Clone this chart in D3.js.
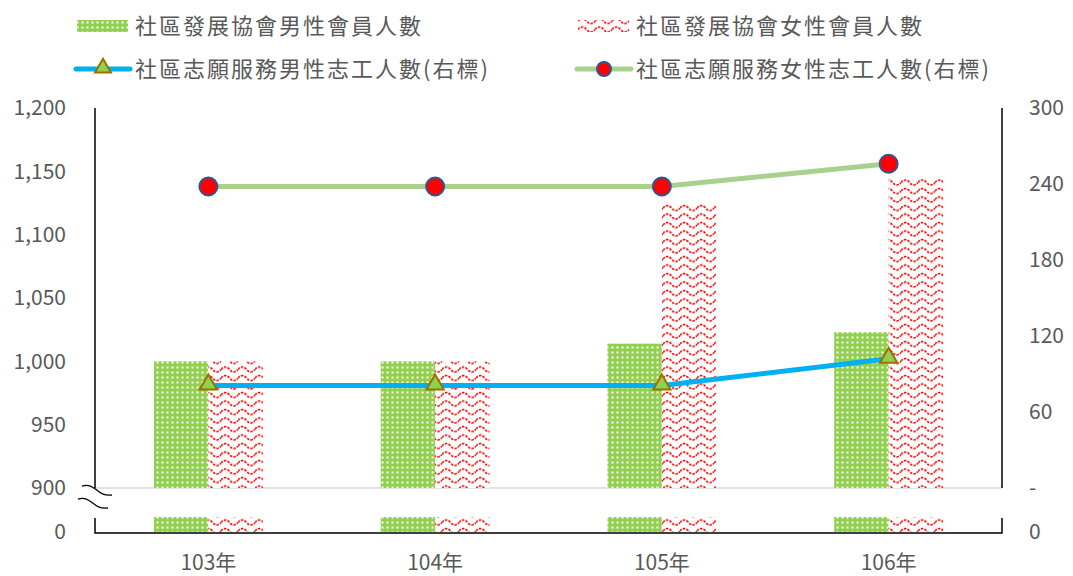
<!DOCTYPE html>
<html>
<head>
<meta charset="utf-8">
<script src="https://cdn.jsdelivr.net/npm/d3@7"></script>
<style>
  body { margin: 0; background: #fff; }
  text { font-family: "Noto Sans CJK TC", "Noto Sans", sans-serif; fill: #595959; }
</style>
</head>
<body>
<div id="chart"></div>
<script>
const categories = ['103年', '104年', '105年', '106年'];
const maleMembers = [1000, 1000, 1014, 1023];
const femaleMembers = [1000, 1000, 1124, 1144];
const maleVolunteers = [81, 81, 81, 102];
const femaleVolunteers = [238, 238, 238, 256];
const leftTicks = [900, 950, 1000, 1050, 1100, 1150, 1200];
const rightTicks = [0, 60, 120, 180, 240, 300];
const legendNames = ['社區發展協會男性會員人數', '社區發展協會女性會員人數', '社區志願服務男性志工人數(右標)', '社區志願服務女性志工人數(右標)'];

const width = 1073, height = 576;
const margin = { left: 95, right: 71, top: 108 };
const plotRight = width - margin.right;
const breakY = 488;     // 900 line of the top panel
const lowTop = 517, lowBottom = 532;

const svg = d3.select('#chart').append('svg')
  .attr('width', width)
  .attr('height', height);

const defs = svg.append('defs');
// green dotted pattern
const pg = defs.append('pattern').attr('id', 'greenDots')
  .attr('patternUnits', 'userSpaceOnUse').attr('width', 5).attr('height', 5);
pg.append('rect').attr('width', 5).attr('height', 5).attr('fill', '#92D050');
pg.append('rect').attr('x', 1.5).attr('y', 1.5).attr('width', 2).attr('height', 2).attr('fill', '#fff');
// red wave pattern
const pr = defs.append('pattern').attr('id', 'redWave')
  .attr('patternUnits', 'userSpaceOnUse').attr('width', 17).attr('height', 8.5);
pr.append('rect').attr('width', 17).attr('height', 8.5).attr('fill', '#fff');
pr.append('path')
  .attr('d', 'M0,4 Q4.25,-1 8.5,4 T17,4')
  .attr('fill', 'none').attr('stroke', '#FF0000').attr('stroke-width', 1.6)
  .attr('stroke-dasharray', '2.5,1.2');

const x = d3.scaleBand().domain(categories).range([margin.left, plotRight])
  .paddingInner(0.52).paddingOuter(0.26);
const xSub = d3.scaleBand().domain(['m', 'f']).range([0, x.bandwidth()]);
const yLeft = d3.scaleLinear().domain([900, 1200]).range([breakY, margin.top]);
const yRight = d3.scaleLinear().domain([0, 300]).range([breakY, margin.top]);
const yLow = d3.scaleLinear().domain([0, 900]).range([lowBottom, lowTop]).clamp(true);

// 900 gridline
svg.append('line').attr('x1', margin.left).attr('x2', plotRight)
  .attr('y1', breakY).attr('y2', breakY).attr('stroke', '#d9d9d9').attr('stroke-width', 1.5);

// bars
const barSeries = [
  { key: 'm', values: maleMembers, fill: 'url(#greenDots)' },
  { key: 'f', values: femaleMembers, fill: 'url(#redWave)' }
];
barSeries.forEach(s => {
  const g = svg.append('g');
  g.selectAll('rect.top').data(s.values).join('rect')
    .attr('x', (d, i) => x(categories[i]) + xSub(s.key))
    .attr('width', xSub.bandwidth())
    .attr('y', d => yLeft(d))
    .attr('height', d => breakY - yLeft(d))
    .attr('fill', s.fill);
  g.selectAll('rect.low').data(s.values).join('rect')
    .attr('x', (d, i) => x(categories[i]) + xSub(s.key))
    .attr('width', xSub.bandwidth())
    .attr('y', d => yLow(d))
    .attr('height', d => lowBottom - yLow(d))
    .attr('fill', s.fill);
});

// axis frames
const axisColor = '#000';
svg.append('line').attr('x1', margin.left).attr('x2', margin.left)
  .attr('y1', margin.top).attr('y2', breakY).attr('stroke', axisColor).attr('stroke-width', 1.5);
svg.append('line').attr('x1', plotRight).attr('x2', plotRight)
  .attr('y1', margin.top).attr('y2', breakY).attr('stroke', axisColor).attr('stroke-width', 1.5);
svg.append('path')
  .attr('d', `M${margin.left},${lowTop + 1}V${lowBottom + 1}H${plotRight}V${lowTop + 1}`)
  .attr('fill', 'none').attr('stroke', axisColor).attr('stroke-width', 1.5);

// break marks
[[82, 486], [78, 499]].forEach(([bx, by]) => {
  svg.append('path')
    .attr('d', `M${bx},${by} C${bx + 14},${by - 4} ${bx + 14},${by + 11} ${bx + 30},${by + 9}`)
    .attr('fill', 'none').attr('stroke', '#000').attr('stroke-width', 1.3);
});

// lines
const lineFor = (vals) => d3.line()
  .x((d, i) => x(categories[i]) + x.bandwidth() / 2)
  .y(d => yRight(d))(vals);

svg.append('path').attr('d', lineFor(maleVolunteers))
  .attr('fill', 'none').attr('stroke', '#00B0F0').attr('stroke-width', 5);
svg.append('path').attr('d', lineFor(femaleVolunteers))
  .attr('fill', 'none').attr('stroke', '#A9D18E').attr('stroke-width', 5);

const tri = d3.symbol().type(d3.symbolTriangle).size(130);
svg.append('g').selectAll('path').data(maleVolunteers).join('path')
  .attr('d', tri)
  .attr('transform', (d, i) => `translate(${x(categories[i]) + x.bandwidth() / 2},${yRight(d) - 1})`)
  .attr('fill', '#92D050').attr('stroke', '#997300').attr('stroke-width', 2);
svg.append('g').selectAll('circle').data(femaleVolunteers).join('circle')
  .attr('cx', (d, i) => x(categories[i]) + x.bandwidth() / 2)
  .attr('cy', d => yRight(d))
  .attr('r', 9)
  .attr('fill', '#FF0000').attr('stroke', '#2F5597').attr('stroke-width', 2);

// tick labels
const fmt = d3.format(',');
svg.append('g').selectAll('text').data(leftTicks).join('text')
  .attr('x', 66).attr('y', d => yLeft(d)).attr('dy', '0.35em')
  .attr('text-anchor', 'end').attr('font-size', 21)
  .text(d => fmt(d));
svg.append('text').attr('x', 66).attr('y', lowBottom).attr('dy', '0.35em')
  .attr('text-anchor', 'end').attr('font-size', 21).text('0');

svg.append('g').selectAll('text').data(rightTicks).join('text')
  .attr('x', 1029).attr('y', d => yRight(d)).attr('dy', '0.35em')
  .attr('text-anchor', 'start').attr('font-size', 21)
  .text(d => d === 0 ? ' -' : fmt(d));
svg.append('text').attr('x', 1029).attr('y', lowBottom).attr('dy', '0.35em')
  .attr('font-size', 21).text('0');

svg.append('g').selectAll('text').data(categories).join('text')
  .attr('x', d => x(d) + x.bandwidth() / 2).attr('y', 563).attr('dy', '0.35em')
  .attr('text-anchor', 'middle').attr('font-size', 21)
  .text(d => d);

// legend
const legend = svg.append('g');
const legendPos = [[77, 26], [578, 26], [77, 69], [578, 69]];
legend.append('rect').attr('x', 77).attr('y', 20).attr('width', 51).attr('height', 12).attr('fill', 'url(#greenDots)');
legend.append('rect').attr('x', 578).attr('y', 20).attr('width', 51).attr('height', 12).attr('fill', 'url(#redWave)');
legend.append('line').attr('x1', 76).attr('x2', 130).attr('y1', 69).attr('y2', 69)
  .attr('stroke', '#00B0F0').attr('stroke-width', 5).attr('stroke-linecap', 'round');
legend.append('path').attr('d', d3.symbol().type(d3.symbolTriangle).size(110))
  .attr('transform', 'translate(103,68)')
  .attr('fill', '#92D050').attr('stroke', '#997300').attr('stroke-width', 2);
legend.append('line').attr('x1', 577).attr('x2', 631).attr('y1', 69).attr('y2', 69)
  .attr('stroke', '#A9D18E').attr('stroke-width', 5).attr('stroke-linecap', 'round');
legend.append('circle').attr('cx', 604).attr('cy', 69).attr('r', 7)
  .attr('fill', '#FF0000').attr('stroke', '#2F5597').attr('stroke-width', 2);
legend.selectAll('text.lg').data(legendNames).join('text')
  .attr('x', (d, i) => legendPos[i][0] + 58)
  .attr('y', (d, i) => legendPos[i][1])
  .attr('dy', '0.35em')
  .attr('font-size', 22)
  .attr('letter-spacing', 2)
  .text(d => d);
</script>
</body>
</html>
